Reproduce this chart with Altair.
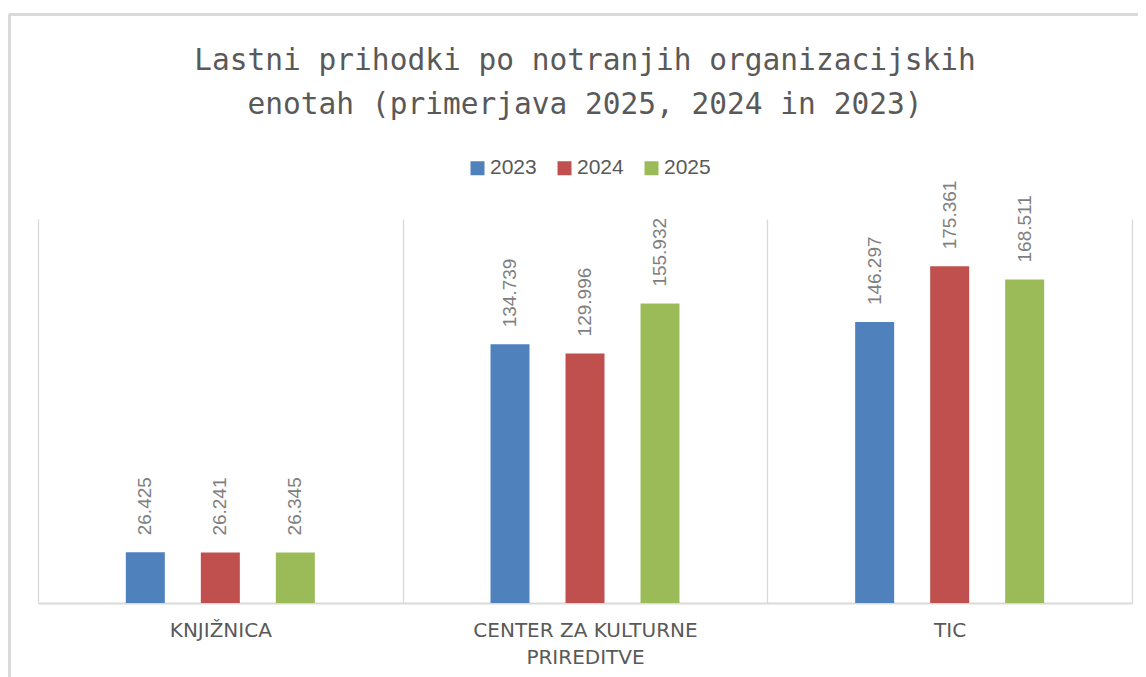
import altair as alt
import pandas as pd

categories = ["KNJIŽNICA", "CENTER ZA KULTURNE PRIREDITVE", "TIC"]
years = ["2023", "2024", "2025"]
values_2023 = [26425, 134739, 146297]
values_2024 = [26241, 129996, 175361]
values_2025 = [26345, 155932, 168511]
colors = ["#4f81bd", "#c0504d", "#9bbb59"]
title_lines = ["Lastni prihodki po notranjih organizacijskih",
               "enotah (primerjava 2025, 2024 in 2023)"]

rows = []
for year, vals in zip(years, [values_2023, values_2024, values_2025]):
    for cat, v in zip(categories, vals):
        rows.append({"category": cat, "year": year, "value": v,
                     "label": f"{v:,}".replace(",", ".")})
df = pd.DataFrame(rows)

x_enc = alt.X(
    "category:N", sort=categories,
    scale=alt.Scale(paddingInner=0, paddingOuter=0),
    axis=alt.Axis(
        title=None, labelAngle=0, ticks=False, grid=True, gridColor="#d9d9d9",
        gridWidth=1.3, tickBand="extent", domainColor="#d9d9d9", domainWidth=2,
        labelFont="DejaVu Sans", labelFontSize=20, labelColor="#595959",
        labelPadding=17, labelLineHeight=27, labelLimit=0,
        labelExpr="datum.value == 'CENTER ZA KULTURNE PRIREDITVE' ? ['CENTER ZA KULTURNE', 'PRIREDITVE'] : datum.label",
    ),
)
xoff_enc = alt.XOffset("year:N", sort=years,
                       scale=alt.Scale(paddingInner=0.138, paddingOuter=1))
y_enc = alt.Y("value:Q", scale=alt.Scale(domain=[0, 200000], nice=False), axis=None)

base = alt.Chart(df)

bars = base.mark_bar(width=39).encode(
    x=x_enc, xOffset=xoff_enc, y=y_enc,
    color=alt.Color("year:N", sort=years,
                    scale=alt.Scale(domain=years, range=colors),
                    legend=alt.Legend(
                        title=None, orient="none", legendX=429, legendY=-61.5,
                        direction="horizontal", symbolType="square",
                        symbolSize=196, symbolStrokeWidth=0,
                        labelFont="Liberation Sans", labelFontSize=21,
                        labelColor="#595959", labelOffset=2, columnPadding=17,
                        padding=0)),
)

labels = base.mark_text(
    angle=270, align="left", baseline="middle", dx=17,
    font="Liberation Sans", fontSize=19, color="#7f7f7f",
).encode(x=x_enc, xOffset=xoff_enc, y=y_enc, text="label:N")

border_top = base.mark_rule(color="#d9d9d9", strokeWidth=2).encode(
    x=alt.value(-28.5), x2=alt.value(1130), y=alt.value(-204.5))
border_left = base.mark_rule(color="#d9d9d9", strokeWidth=2).encode(
    x=alt.value(-28.5), y=alt.value(-204.5), y2=alt.value(480))

chart = alt.layer(border_top, border_left, bars, labels).properties(
    width=1094, height=384,
    autosize=alt.AutoSizeParams(type="none"),
    padding={"left": 30, "top": 211, "right": 6, "bottom": 74},
    background="white",
    title=alt.TitleParams(
        text=title_lines, font="DejaVu Sans Mono", fontSize=29.5,
        fontWeight="normal", color="#595959", anchor="middle",
        lineHeight=44, offset=-106.5),
).configure_view(stroke=None)

chart.save("out.html", embed_options={"renderer": "svg", "actions": False})
